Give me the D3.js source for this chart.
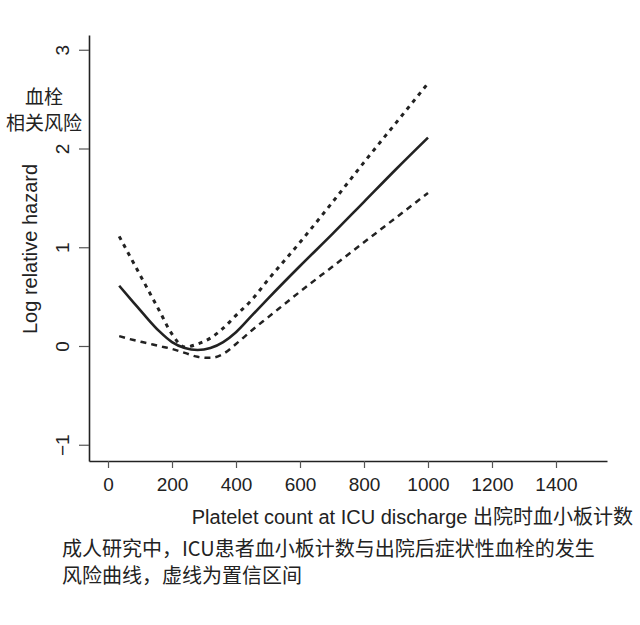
<!DOCTYPE html>
<html>
<head>
<meta charset="utf-8">
<script src="https://cdn.jsdelivr.net/npm/d3@7"></script>
<style>
  body { margin: 0; background: #fff; }
  text { font-family: "Liberation Sans", Arial, "Noto Sans CJK SC", sans-serif; fill: #222; }
  .cjk { font-family: "Noto Sans CJK SC", sans-serif; }
</style>
</head>
<body>
<div id="container"></div>
<script>
// platelet count at ICU discharge
const platelet = [35, 80, 120, 160, 200, 240, 280, 320, 360, 400, 450, 500, 600, 700, 800, 900, 1000];
// log relative hazard, estimate + confidence band
const hazard = [0.61, 0.44, 0.29, 0.15, 0.04, -0.02, -0.04, -0.02, 0.04, 0.14, 0.31, 0.48, 0.81, 1.13, 1.46, 1.79, 2.11];
const upper  = [1.11, 0.84, 0.60, 0.36, 0.12, -0.01, 0.02, 0.08, 0.18, 0.31, 0.47, 0.67, 1.05, 1.45, 1.86, 2.26, 2.66];
const lower  = [0.10, 0.06, 0.03, 0.00, -0.03, -0.07, -0.11, -0.12, -0.08, 0.02, 0.16, 0.29, 0.55, 0.80, 1.05, 1.30, 1.55];

const xTicks = [0, 200, 400, 600, 800, 1000, 1200, 1400];
const yTicks = [-1, 0, 1, 2, 3];

const svg = d3.select("#container").append("svg")
    .attr("width", 640)
    .attr("height", 625);

const x = d3.scaleLinear().domain([-59.4, 1559.4]).range([89, 607]);
const y = d3.scaleLinear().domain([-1.1646, 3.1494]).range([461, 35]);

// axes
const gx = svg.append("g")
    .attr("transform", "translate(0,461)")
    .call(d3.axisBottom(x).tickValues(xTicks).tickFormat(d3.format("d"))
        .tickSize(7).tickSizeOuter(0).tickPadding(10));
const gy = svg.append("g")
    .attr("transform", "translate(89,0)")
    .call(d3.axisLeft(y).tickValues(yTicks).tickFormat(d3.format("d"))
        .tickSize(10).tickSizeOuter(0));

[gx, gy].forEach(function(g) {
    g.select(".domain").attr("stroke", "#222").attr("stroke-width", 1.6);
    g.selectAll(".tick line").attr("stroke", "#555").attr("stroke-width", 1.2);
    g.selectAll(".tick text").attr("font-size", 19).attr("fill", "#222")
        .style("font-family", '"Liberation Sans", Arial, sans-serif');
});
gx.selectAll(".tick text").attr("dy", "0.71em");
// R style: y labels turned to read bottom-up
gy.selectAll(".tick text")
    .attr("x", null).attr("dy", null)
    .attr("text-anchor", "middle")
    .attr("transform", "translate(-20,0) rotate(-90)");

// curves
const line = d3.line()
    .x(function(d) { return x(d[0]); })
    .y(function(d) { return y(d[1]); })
    .curve(d3.curveMonotoneX);

function pairs(vals) {
    return platelet.map(function(p, i) { return [p, vals[i]]; });
}

svg.append("path")
    .attr("d", line(pairs(upper)))
    .attr("fill", "none").attr("stroke", "#222")
    .attr("stroke-width", 3).attr("stroke-dasharray", "4,5");
svg.append("path")
    .attr("d", line(pairs(lower)))
    .attr("fill", "none").attr("stroke", "#222")
    .attr("stroke-width", 2.5).attr("stroke-dasharray", "6,5");
svg.append("path")
    .attr("d", line(pairs(hazard)))
    .attr("fill", "none").attr("stroke", "#222")
    .attr("stroke-width", 2.6);

// titles
svg.append("text")
    .attr("transform", "translate(37,249) rotate(-90)")
    .attr("text-anchor", "middle")
    .attr("font-size", 20)
    .text("Log relative hazard");

svg.append("text").attr("class", "cjk")
    .attr("x", 44).attr("y", 104)
    .attr("text-anchor", "middle").attr("font-size", 19)
    .text("血栓");
svg.append("text").attr("class", "cjk")
    .attr("x", 44).attr("y", 130)
    .attr("text-anchor", "middle").attr("font-size", 19)
    .text("相关风险");

const xt = svg.append("text")
    .attr("x", 633).attr("y", 524)
    .attr("text-anchor", "end")
    .attr("font-size", 20);
xt.append("tspan").text("Platelet count at ICU discharge ");
xt.append("tspan").attr("class", "cjk").text("出院时血小板计数");

svg.append("text").attr("class", "cjk")
    .attr("x", 62).attr("y", 556)
    .attr("font-size", 20)
    .text("成人研究中，ICU患者血小板计数与出院后症状性血栓的发生");
svg.append("text").attr("class", "cjk")
    .attr("x", 62).attr("y", 583)
    .attr("font-size", 20)
    .text("风险曲线，虚线为置信区间");
</script>
</body>
</html>
